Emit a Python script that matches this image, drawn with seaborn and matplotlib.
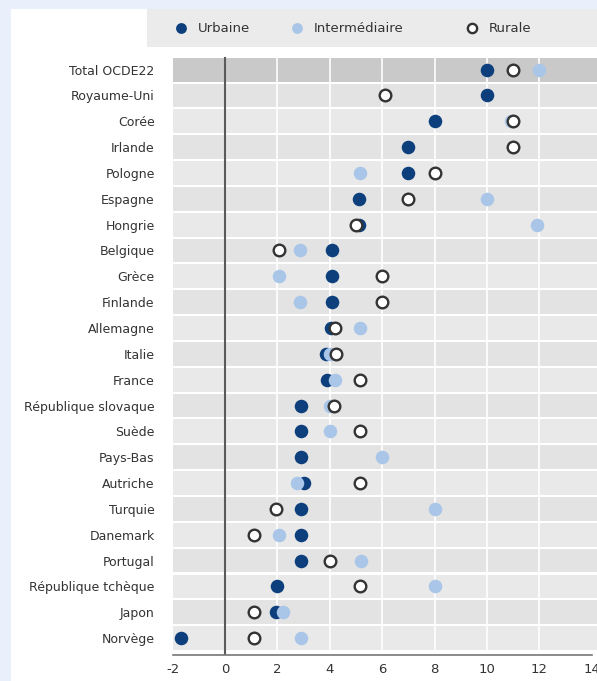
import numpy as np
import pandas as pd
import matplotlib
matplotlib.use("Agg")
import matplotlib.pyplot as plt
from matplotlib.patches import Rectangle
import seaborn as sns

sns.set_style("white")
plt.rcParams['font.family'] = ['DejaVu Sans']

countries = ["Total OCDE22", "Royaume-Uni", "Corée", "Irlande", "Pologne", "Espagne",
             "Hongrie", "Belgique", "Grèce", "Finlande", "Allemagne", "Italie", "France",
             "République slovaque", "Suède", "Pays-Bas", "Autriche", "Turquie", "Danemark",
             "Portugal", "République tchèque", "Japon", "Norvège"]
nan = np.nan
urbaine = [10.0, 10.0, 8.0, 7.0, 7.0, 5.1, 5.1, 4.1, 4.1, 4.1, 4.05, 3.85, 3.9,
           2.9, 2.9, 2.9, 3.0, 2.9, 2.9, 2.9, 2.0, 1.95, -1.7]
intermediaire = [12.0, nan, 10.9, nan, 5.15, 10.0, 11.9, 2.85, 2.05, 2.85, 5.15, 4.0, 4.2,
                 4.0, 4.0, 6.0, 2.75, 8.0, 2.05, 5.2, 8.0, 2.2, 2.9]
rurale = [11.0, 6.1, 11.0, 11.0, 8.0, 7.0, 5.0, 2.05, 6.0, 6.0, 4.2, 4.25, 5.15,
          4.15, 5.15, nan, 5.15, 1.95, 1.1, 4.0, 5.15, 1.1, 1.1]
xticks = [-2, 0, 2, 4, 6, 8, 10, 12, 14]

df = pd.DataFrame({"pays": countries, "pos": np.arange(len(countries)),
                   "Urbaine": urbaine, "Intermédiaire": intermediaire, "Rurale": rurale})
long = df.melt(id_vars=["pays", "pos"], var_name="zone", value_name="valeur").dropna()

W, H = 597, 681
fig = plt.figure(figsize=(W / 100, H / 100), dpi=100, facecolor="#eaf0fb")
fig.patches.append(Rectangle((11 / W, 0), 1, 1 - 9 / H, transform=fig.transFigure,
                             facecolor="white", edgecolor="none", zorder=-10))
fig.patches.append(Rectangle((147 / W, 1 - 47 / H), (W - 147) / W, 38 / H,
                             transform=fig.transFigure, facecolor="#ebebeb",
                             edgecolor="none", zorder=-9))

ax_left, ax_top, ax_bottom = 172.7, 56.7, 655
ax = fig.add_axes([ax_left / W, 1 - ax_bottom / H, (W - ax_left) / W, (ax_bottom - ax_top) / H])
ax.set_facecolor("white")

n = len(countries)
for i in range(n):
    if i == 0:
        c = "#c9c9c9"
    else:
        c = "#e3e3e3" if i % 2 == 1 else "#e9e9e9"
    ax.axhspan(i - 0.5 + 0.04, i + 0.5 - 0.04, color=c, zorder=0, lw=0)

for v in xticks[1:-1]:
    if v != 0:
        ax.axvline(v, color="white", lw=1.2, zorder=1)
ax.axvline(0, color="#5a5a5a", lw=1.5, zorder=2)

col_urb = "#0c3f7c"
col_int = "#a9c6e8"
col_rur = "#333333"

sns.scatterplot(data=long[long.zone == "Urbaine"], x="valeur", y="pos", ax=ax,
                color=col_urb, s=95, linewidth=0, zorder=3, label="Urbaine", legend=False)
sns.scatterplot(data=long[long.zone == "Intermédiaire"], x="valeur", y="pos", ax=ax,
                color=col_int, s=95, linewidth=0, zorder=4, label="Intermédiaire", legend=False)
sns.scatterplot(data=long[long.zone == "Rurale"], x="valeur", y="pos", ax=ax,
                facecolor="white", edgecolor=col_rur, s=70, linewidth=1.7, zorder=5,
                label="Rurale", legend=False)

row_h = (651 - ax_top) / n
extra = (ax_bottom - 651) / row_h
ax.set_ylim(n - 0.5 + extra, -0.5)
ax.set_xlim(-2, 14 + (W - 591.7) / 26.19)
ax.set_xticks(xticks)
ax.set_xticklabels([str(t) for t in xticks])
ax.set_yticks(np.arange(n))
ax.set_yticklabels(countries)
ax.set_xlabel("")
ax.set_ylabel("")

for s in ["top", "right", "left"]:
    ax.spines[s].set_visible(False)
ax.spines["bottom"].set_color("#777777")
ax.spines["bottom"].set_linewidth(1.2)
ax.spines["bottom"].set_bounds(-2, 14)
ax.tick_params(axis="x", direction="in", length=6, width=1.2, color="#777777",
               labelsize=9.5, labelcolor="#333333", pad=6)
ax.tick_params(axis="y", length=0, labelsize=9, labelcolor="#333333", pad=13)
ax.grid(False)

handles, labels = ax.get_legend_handles_labels()
fs = 9.5
pos_x = {"Urbaine": 181, "Intermédiaire": 297, "Rurale": 472}
leg_y = 1 - 28 / H
for h, l in zip(handles, labels):
    lx = pos_x[l] - fs * 100 / 72 * 0.5
    fig.legend(handles=[h], labels=[l], loc="center left",
               bbox_to_anchor=(lx / W, leg_y), frameon=False, fontsize=fs,
               handlelength=1.0, handletextpad=0.8, borderpad=0, borderaxespad=0,
               labelcolor="#333333", markerscale=0.8)

fig.savefig("out.png", dpi=100, facecolor=fig.get_facecolor())
